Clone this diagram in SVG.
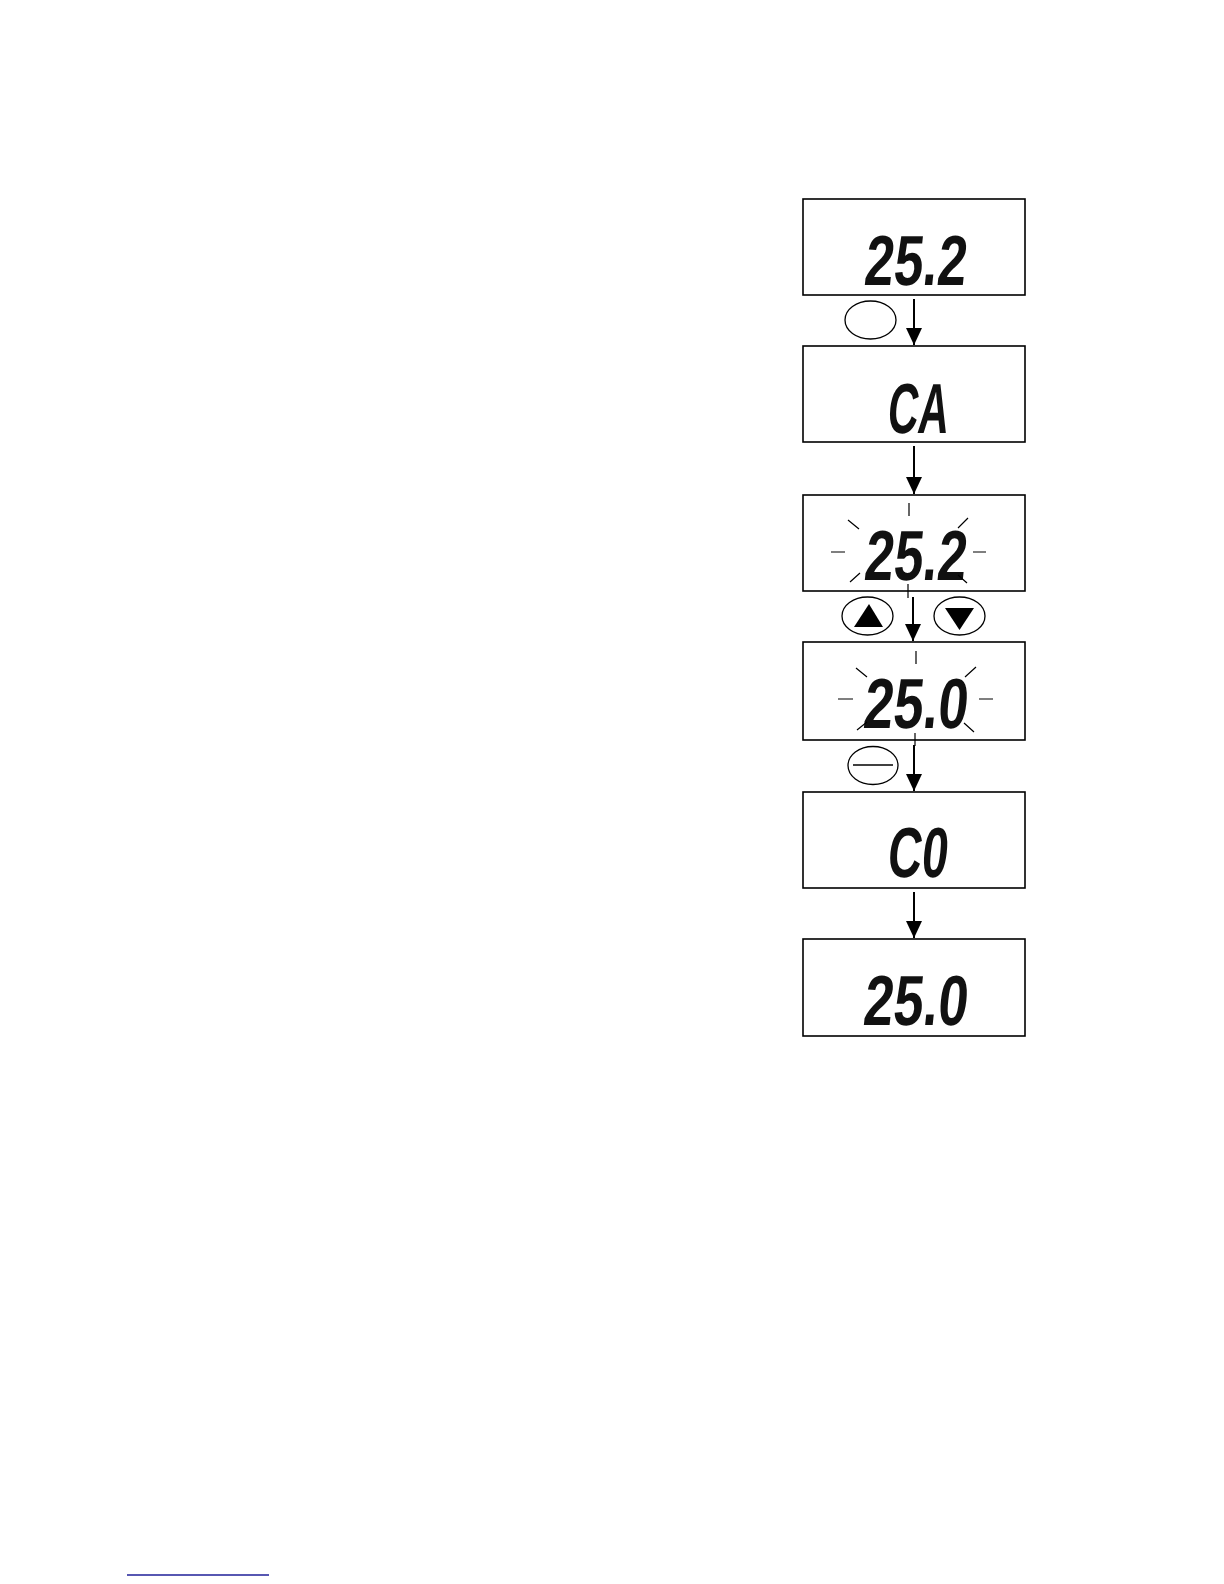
<svg xmlns="http://www.w3.org/2000/svg" width="1224" height="1584" viewBox="0 0 1224 1584">
<style>
.box{fill:#fff;stroke:#000;stroke-width:1.6}
.lcd{font-family:"Liberation Sans",Arial,sans-serif;font-weight:bold;font-size:71px;fill:#111}
.ray{stroke:#000;stroke-width:1.2;fill:none}
.btn{fill:#fff;stroke:#000;stroke-width:1.3}
.conn{stroke:#000;stroke-width:2;fill:none;marker-end:url(#ah)}
</style>
<defs>
<marker id="ah" markerUnits="userSpaceOnUse" markerWidth="18" markerHeight="18" viewBox="0 0 18 18" refX="17" refY="9" orient="auto">
<path d="M0,1 L17,9 L0,17 Z" fill="#000"/>
</marker>
</defs>
<rect width="1224" height="1584" fill="#fff"/>

<g id="node1">
<rect class="box" x="803" y="199" width="222" height="96"/>
<g transform="translate(863,285) skewX(-6)"><text class="lcd" x="0" y="0" textLength="102" lengthAdjust="spacingAndGlyphs">25.2</text></g>
</g>

<g id="node2">
<rect class="box" x="803" y="346" width="222" height="96"/>
<g transform="translate(886,433) skewX(-6)"><text class="lcd" x="0" y="0" textLength="61" lengthAdjust="spacingAndGlyphs">CA</text></g>
</g>

<g id="node3">
<rect class="box" x="803" y="495" width="222" height="96"/>
<g transform="translate(863,580) skewX(-6)"><text class="lcd" x="0" y="0" textLength="102" lengthAdjust="spacingAndGlyphs">25.2</text></g>
<path class="ray" d="M909,503V516 M831,552H845 M973,552H986 M848,520L859,529 M968,518L958,528 M850,582L860,573 M958,575L967,583 M908,584V598"/>
</g>

<g id="node4">
<rect class="box" x="803" y="642" width="222" height="98"/>
<g transform="translate(862,728) skewX(-6)"><text class="lcd" x="0" y="0" textLength="104" lengthAdjust="spacingAndGlyphs">25.0</text></g>
<path class="ray" d="M916,651V664 M838,699H853 M979,699H993 M856,668L867,677 M976,667L965,677 M857,730L867,722 M964,723L974,732 M915,733V746"/>
</g>

<g id="node5">
<rect class="box" x="803" y="792" width="222" height="96"/>
<g transform="translate(886,877) skewX(-6)"><text class="lcd" x="0" y="0" textLength="60" lengthAdjust="spacingAndGlyphs">C0</text></g>
</g>

<g id="node6">
<rect class="box" x="803" y="939" width="222" height="97"/>
<g transform="translate(862,1025) skewX(-6)"><text class="lcd" x="0" y="0" textLength="104" lengthAdjust="spacingAndGlyphs">25.0</text></g>
</g>

<g id="button-set">
<ellipse class="btn" cx="870.5" cy="320" rx="25.5" ry="19"/>
</g>
<g id="button-up">
<ellipse class="btn" cx="867.5" cy="616" rx="25.5" ry="19"/>
<path d="M869,604 L883,627 L854,627 Z" fill="#000"/>
</g>
<g id="button-down">
<ellipse class="btn" cx="959.5" cy="616" rx="25.5" ry="19"/>
<path d="M945,608 L974,608 L959.5,630 Z" fill="#000"/>
</g>
<g id="button-enter">
<ellipse class="btn" cx="873" cy="765.5" rx="25" ry="19"/>
<line x1="853" y1="765" x2="893" y2="765" stroke="#000" stroke-width="1.3"/>
</g>

<g id="connectors">
<line class="conn" x1="914" y1="299" x2="914" y2="345"/>
<line class="conn" x1="914" y1="446" x2="914" y2="494"/>
<line class="conn" x1="913" y1="597" x2="913" y2="641"/>
<line class="conn" x1="914" y1="745" x2="914" y2="791"/>
<line class="conn" x1="914" y1="892" x2="914" y2="938"/>
</g>

<line x1="127" y1="1575" x2="269" y2="1575" stroke="#1f1f99" stroke-width="1.6"/>
</svg>
